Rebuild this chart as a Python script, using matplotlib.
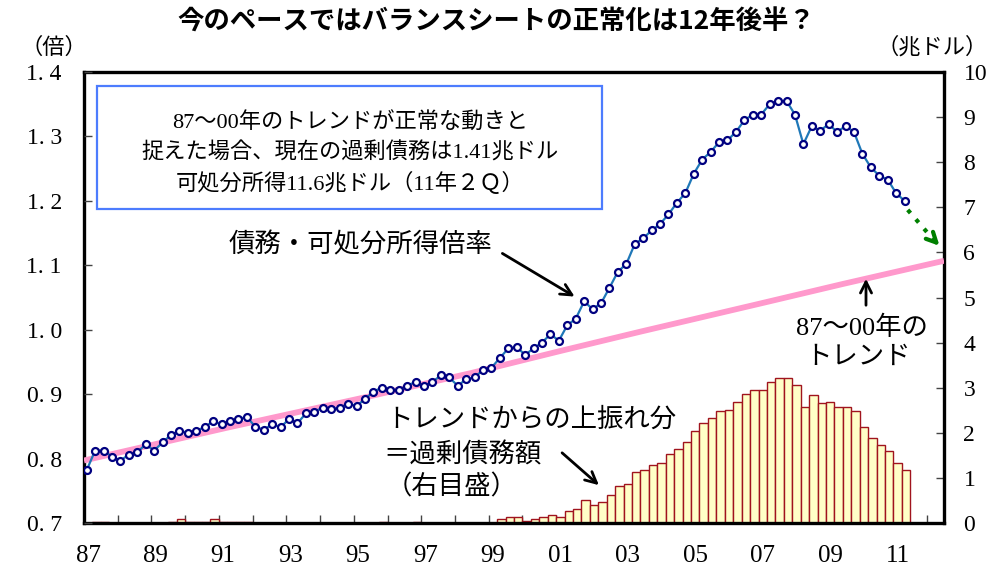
import numpy as np
import matplotlib
matplotlib.use('Agg')
import matplotlib.pyplot as plt
from matplotlib.patches import Rectangle

plt.rcParams['font.family'] = ['Liberation Serif', 'Noto Sans CJK JP', 'DejaVu Sans']

# 債務・可処分所得倍率（四半期、87年1Q〜11年2Q）
ratio = [0.782, 0.8125, 0.8125, 0.803, 0.797, 0.806, 0.810, 0.822, 0.8125, 0.825,
         0.837, 0.843, 0.840, 0.843, 0.849, 0.858, 0.853, 0.858, 0.861, 0.865,
         0.849, 0.845, 0.853, 0.849, 0.861, 0.855, 0.870, 0.873, 0.879, 0.877,
         0.879, 0.885, 0.882, 0.892, 0.904, 0.910, 0.907, 0.907, 0.913, 0.919,
         0.9125, 0.919, 0.929, 0.926, 0.913, 0.923, 0.926, 0.9375, 0.941, 0.956,
         0.971, 0.973, 0.961, 0.971, 0.980, 0.993, 0.983, 1.007, 1.017, 1.044,
         1.032, 1.041, 1.065, 1.090, 1.102, 1.133, 1.142, 1.154, 1.164, 1.179,
         1.197, 1.212, 1.242, 1.264, 1.276, 1.291, 1.294, 1.307, 1.325, 1.334,
         1.334, 1.350, 1.355, 1.355, 1.334, 1.288, 1.316, 1.309, 1.319, 1.307,
         1.316, 1.307, 1.273, 1.252, 1.239, 1.233, 1.212, 1.200]

# 過剰債務額（兆ドル、右目盛）
excess = [0, 0.03, 0.03, 0, 0, 0, 0, 0, 0, 0,
          0.03, 0.08, 0.03, 0.03, 0.03, 0.08, 0.03, 0.03, 0.03, 0.03,
          0, 0, 0, 0, 0, 0, 0, 0, 0, 0,
          0, 0, 0, 0, 0, 0.03, 0, 0, 0, 0.03,
          0, 0, 0, 0, 0, 0, 0, 0, 0, 0.09,
          0.13, 0.13, 0.04, 0.09, 0.13, 0.17, 0.13, 0.26, 0.31, 0.52,
          0.39, 0.47, 0.61, 0.82, 0.87, 1.14, 1.17, 1.29, 1.34, 1.52,
          1.65, 1.79, 2.04, 2.21, 2.33, 2.48, 2.51, 2.69, 2.87, 2.96,
          2.96, 3.12, 3.21, 3.21, 3.05, 2.57, 2.83, 2.66, 2.69, 2.57,
          2.57, 2.48, 2.13, 1.88, 1.74, 1.60, 1.34, 1.17]

# 87〜00年のトレンド（四半期番号, 倍率）
trend_q = [0, 17, 34, 46, 56.5, 66, 80, 90, 102]
trend_v = [0.797, 0.848, 0.897, 0.933, 0.967, 0.997, 1.040, 1.071, 1.107]

year_labels = ['87', '89', '91', '93', '95', '97', '99', '01', '03', '05', '07', '09', '11']
n_quarters = 102

W, H = 992, 569


def fp(x, y):
    # 画素座標 -> figure fraction
    return (x / W, 1 - y / H)


fig = plt.figure(figsize=(W / 100, H / 100), dpi=100)
ax = fig.add_axes([84 / W, 1 - 523 / H, 860 / W, 451 / H])
ax2 = ax.twinx()

# 棒グラフ（右軸）
q = np.arange(len(excess))
vals = np.array(excess)
mask = vals > 0
ax.bar(q[mask] + 0.5, vals[mask], width=1.0, color='#FFFFC8',
       edgecolor='#A0141E', linewidth=1.0, zorder=2)
ax.set_ylim(0, 10)
ax.set_xlim(0, n_quarters)
ax.yaxis.tick_right()
ax.set_yticks(range(0, 11))
ax.set_yticklabels([str(v) for v in range(0, 11)], fontsize=17, family='Liberation Serif')

# x軸: 年ごとの目盛、2年ごとのラベル
ax.set_xticks(np.arange(4, n_quarters, 4))
ax.set_xticklabels([])
ax.set_xticks(np.arange(len(year_labels)) * 8 + 0.5, minor=True)
ax.set_xticklabels(year_labels, minor=True, fontsize=18, family='Liberation Serif')
ax.tick_params(axis='x', which='major', direction='in', length=6, width=1, color='#444444')
ax.tick_params(axis='x', which='minor', length=0, pad=16)
ax.tick_params(axis='y', direction='in', length=6, width=1, color='#444444', pad=14)
for s in ax.spines.values():
    s.set_linewidth(2.4)

# 倍率（左軸）
ax2.yaxis.tick_left()
ax2.set_ylim(0.7, 1.4)
ax2.set_xlim(0, n_quarters)
yt = np.round(np.arange(0.7, 1.41, 0.1), 1)
ax2.set_yticks(yt)
ax2.set_yticklabels([f'{v:.1f}'.replace('.', '. ') for v in yt], fontsize=17,
                    family='Liberation Serif')
ax2.tick_params(axis='y', direction='in', length=6, width=1, color='#444444', pad=16)
for s in ax2.spines.values():
    s.set_visible(False)

ax2.plot(trend_q, trend_v, color='#FF99CC', linewidth=4.2, solid_capstyle='butt', zorder=3)
ax2.plot(q + 0.32, ratio, color='#1F78B8', linewidth=1.6, marker='o', markersize=5,
         markerfacecolor='white', markeredgecolor='#000080', markeredgewidth=1.6, zorder=4)

# 緑の点線矢印（トレンドへの収束）
ax2.plot([97.7, 101.0], [1.186, 1.136], color='#008000', linewidth=3, linestyle=(0, (1, 2)),
         zorder=5)
ax2.annotate('', xy=(101.7, 1.127), xytext=(100.6, 1.142), xycoords='data',
             arrowprops=dict(arrowstyle='->', color='#008000', lw=3,
                             mutation_scale=18), zorder=5)

# タイトル・単位
fig.text(*fp(496, 22), '今のペースではバランスシートの正常化は12年後半？',
         ha='center', va='center', fontsize=19, fontweight='bold',
         family=['Noto Sans CJK JP', 'DejaVu Sans'])
fig.text(*fp(20, 47), '（倍）', ha='left', va='center', fontsize=16,
         family=['Noto Sans CJK JP', 'DejaVu Sans'])
fig.text(*fp(988, 47), '（兆ドル）', ha='right', va='center', fontsize=16,
         family=['Noto Sans CJK JP', 'DejaVu Sans'])

# 注記ボックス
box = Rectangle(((97 - 84) / 860, (523 - 209) / 451), (602 - 97) / 860, (209 - 86) / 451,
                transform=ax2.transAxes, fill=False, edgecolor='#4D7CFE',
                linewidth=1.6, zorder=6)
ax2.add_patch(box)
box_lines = ['87～00年のトレンドが正常な動きと',
             '捉えた場合、現在の過剰債務は1.41兆ドル',
             '可処分所得11.6兆ドル（11年２Ｑ）']
for i, line in enumerate(box_lines):
    fig.text(*fp(350, 123 + i * 30), line, ha='center', va='center', fontsize=16)

# 注記テキストと矢印
fig.text(*fp(360, 245), '債務・可処分所得倍率', ha='center', va='center', fontsize=19)
fig.text(*fp(862, 328), '87～00年の', ha='center', va='center', fontsize=19)
fig.text(*fp(858, 358), 'トレンド', ha='center', va='center', fontsize=19)
fig.text(*fp(386, 420), 'トレンドからの上振れ分', ha='left', va='center', fontsize=19)
fig.text(*fp(383, 455), '＝過剰債務額', ha='left', va='center', fontsize=19)
fig.text(*fp(386, 487), '（右目盛）', ha='left', va='center', fontsize=19)

arrow = dict(arrowstyle='->', color='black', lw=2, mutation_scale=20)
fig.add_artist(plt.Annotation('', xy=fp(577, 298), xytext=fp(500, 252),
                              xycoords='figure fraction', arrowprops=arrow))
fig.add_artist(plt.Annotation('', xy=fp(866, 276), xytext=fp(866, 308),
                              xycoords='figure fraction', arrowprops=arrow))
fig.add_artist(plt.Annotation('', xy=fp(601, 487), xytext=fp(560, 451),
                              xycoords='figure fraction', arrowprops=arrow))

fig.savefig('out.png', dpi=100)
